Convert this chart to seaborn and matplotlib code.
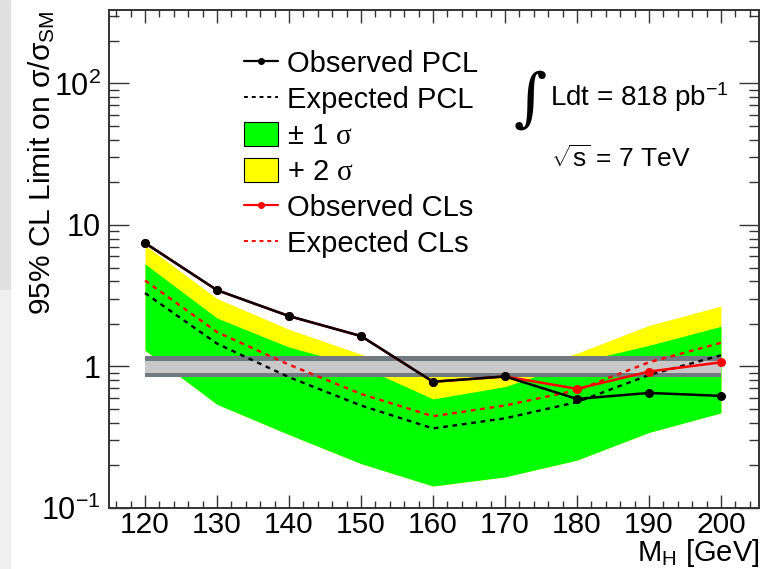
import numpy as np
import pandas as pd
import seaborn as sns
import matplotlib.pyplot as plt
from matplotlib.lines import Line2D
from matplotlib.patches import Patch, Rectangle
from matplotlib.ticker import FixedLocator, FixedFormatter, NullFormatter, MultipleLocator

# higgs mass points [GeV]
mass = [120, 130, 140, 150, 160, 170, 180, 190, 200]

# limits on sigma/sigma_SM
obs_pcl = [7.45, 3.46, 2.27, 1.64, 0.78, 0.85, 0.59, 0.65, 0.62]
exp_pcl = [3.3, 1.45, 0.84, 0.53, 0.365, 0.43, 0.56, 0.87, 1.2]
obs_cls = [7.45, 3.46, 2.27, 1.64, 0.78, 0.85, 0.695, 0.92, 1.07]
exp_cls = [4.05, 1.75, 1.03, 0.64, 0.445, 0.53, 0.68, 1.07, 1.47]

# bands
band1_lo = [1.3, 0.54, 0.33, 0.206, 0.143, 0.166, 0.218, 0.342, 0.47]
band1_hi = [5.3, 2.2, 1.37, 1.0, 0.59, 0.72, 1.07, 1.41, 1.92]
band2_hi = [7.2, 3.02, 1.83, 1.22, 0.86, 0.86, 1.24, 1.95, 2.67]

# SM reference band around 1
sm_outer = [0.84, 1.18]
sm_inner = [0.90, 1.10]

ytick_vals = [0.1, 1, 10, 100]
ytick_labels = ["10$^{-1}$", "1", "10", "10$^{2}$"]

sns.set_style("ticks")
plt.rcParams["font.family"] = ["Liberation Sans", "DejaVu Sans"]
plt.rcParams["mathtext.fontset"] = "custom"
plt.rcParams["mathtext.rm"] = "Liberation Sans"
plt.rcParams["mathtext.it"] = "Liberation Serif"
plt.rcParams["mathtext.default"] = "regular"
plt.rcParams["text.color"] = "black"
plt.rcParams["axes.labelcolor"] = "black"
plt.rcParams["xtick.labelcolor"] = "black"
plt.rcParams["ytick.labelcolor"] = "black"

fig = plt.figure(figsize=(7.63, 5.69), dpi=100)
fig.patches.append(Rectangle((0, 0.49), 0.013, 0.51, transform=fig.transFigure,
                             color="#e0e0e0", zorder=0))
fig.patches.append(Rectangle((0, 0), 0.013, 0.49, transform=fig.transFigure,
                             color="#f0f0f0", zorder=0))
ax = fig.add_axes([0.1429, 0.1072, 0.852, 0.8752])

df = pd.DataFrame({"mass": mass, "obs_pcl": obs_pcl, "exp_pcl": exp_pcl,
                   "obs_cls": obs_cls, "exp_cls": exp_cls})

# bands
ax.fill_between(mass, band1_lo, band2_hi, color="#ffff00", lw=0, zorder=1)
ax.fill_between(mass, band1_lo, band1_hi, color="#00ff00", lw=0, zorder=2)

ones = np.ones(len(mass))
ax.fill_between(mass, ones * sm_outer[0], ones * sm_outer[1], color="#707a80", lw=0, zorder=3)
ax.fill_between(mass, ones * sm_inner[0], ones * sm_inner[1], color="#c8c8c8", lw=0, zorder=4)

sns.lineplot(data=df, x="mass", y="exp_cls", ax=ax, color="red", lw=1.7, zorder=5)
sns.lineplot(data=df, x="mass", y="exp_pcl", ax=ax, color="black", lw=1.7, zorder=5)
ax.lines[0].set_dashes((2, 2))
ax.lines[1].set_dashes((2, 2))
sns.lineplot(data=df, x="mass", y="obs_cls", ax=ax, color="red", lw=1.8,
             marker="o", markersize=6.5, markeredgewidth=0, zorder=6)
sns.lineplot(data=df, x="mass", y="obs_pcl", ax=ax, color="black", lw=1.8,
             marker="o", markersize=6.5, markeredgewidth=0, zorder=7)

ax.set_yscale("log")
ax.set_xlim(115, 205.3)
ax.set_ylim(0.1, 330)

ax.xaxis.set_major_locator(MultipleLocator(10))
ax.xaxis.set_minor_locator(MultipleLocator(2))
ax.yaxis.set_major_locator(FixedLocator(ytick_vals))
ax.yaxis.set_major_formatter(FixedFormatter(ytick_labels))
ax.yaxis.set_minor_locator(FixedLocator([m * 10.0 ** e for e in range(-1, 3) for m in range(2, 10)]))
ax.yaxis.set_minor_formatter(NullFormatter())

ax.tick_params(axis="x", which="major", direction="in", length=9.5, width=1,
               top=True, labelsize=21.5, pad=2, color="#333333")
ax.tick_params(axis="x", which="minor", direction="in", length=5, width=1,
               top=True, color="#333333")
ax.tick_params(axis="y", which="major", direction="in", length=14.5, width=1,
               right=True, labelsize=22, pad=6, color="#333333")
ax.tick_params(axis="y", which="minor", direction="in", length=7, width=1,
               right=True, color="#333333")
for s in ax.spines.values():
    s.set_linewidth(1.4)
    s.set_color("#333333")

ax.set_xlabel("M$_{H}$ [GeV]", fontsize=21, loc="right", labelpad=-1)
ax.set_ylabel("95% CL Limit on σ/σ$_{SM}$", fontsize=21.5, loc="top")
ax.yaxis.set_label_coords(-0.08, 1.0)

handles = [
    Line2D([], [], color="black", lw=1.6, marker="o", markersize=4),
    Line2D([], [], color="black", lw=1.4, dashes=(2, 2)),
    Patch(facecolor="#00ff00", edgecolor="black", lw=0.8),
    Patch(facecolor="#ffff00", edgecolor="black", lw=0.8),
    Line2D([], [], color="red", lw=1.6, marker="o", markersize=4),
    Line2D([], [], color="red", lw=1.4, dashes=(2, 2)),
]
labels = ["Observed PCL", "Expected PCL", "± 1 $\\mathit{σ}$", "+ 2 $\\mathit{σ}$",
          "Observed CLs", "Expected CLs"]
ax.legend(handles, labels, loc="upper left", bbox_to_anchor=(0.19, 0.943),
          frameon=False, fontsize=21, handlelength=1.15, handleheight=0.9,
          handletextpad=0.33, labelspacing=0.27, borderaxespad=0)

ax.text(0.622, 0.818, "∫", transform=ax.transAxes, fontsize=46,
        family="DejaVu Serif", va="center", ha="left")
ax.text(0.678, 0.825, "Ldt = 818 pb$^{-1}$", transform=ax.transAxes, fontsize=20,
        va="center", ha="left")
ax.text(0.68, 0.702, "$\\sqrt{s}$ = 7 TeV", transform=ax.transAxes, fontsize=19,
        va="center", ha="left")

fig.savefig("out.png", dpi=100)
